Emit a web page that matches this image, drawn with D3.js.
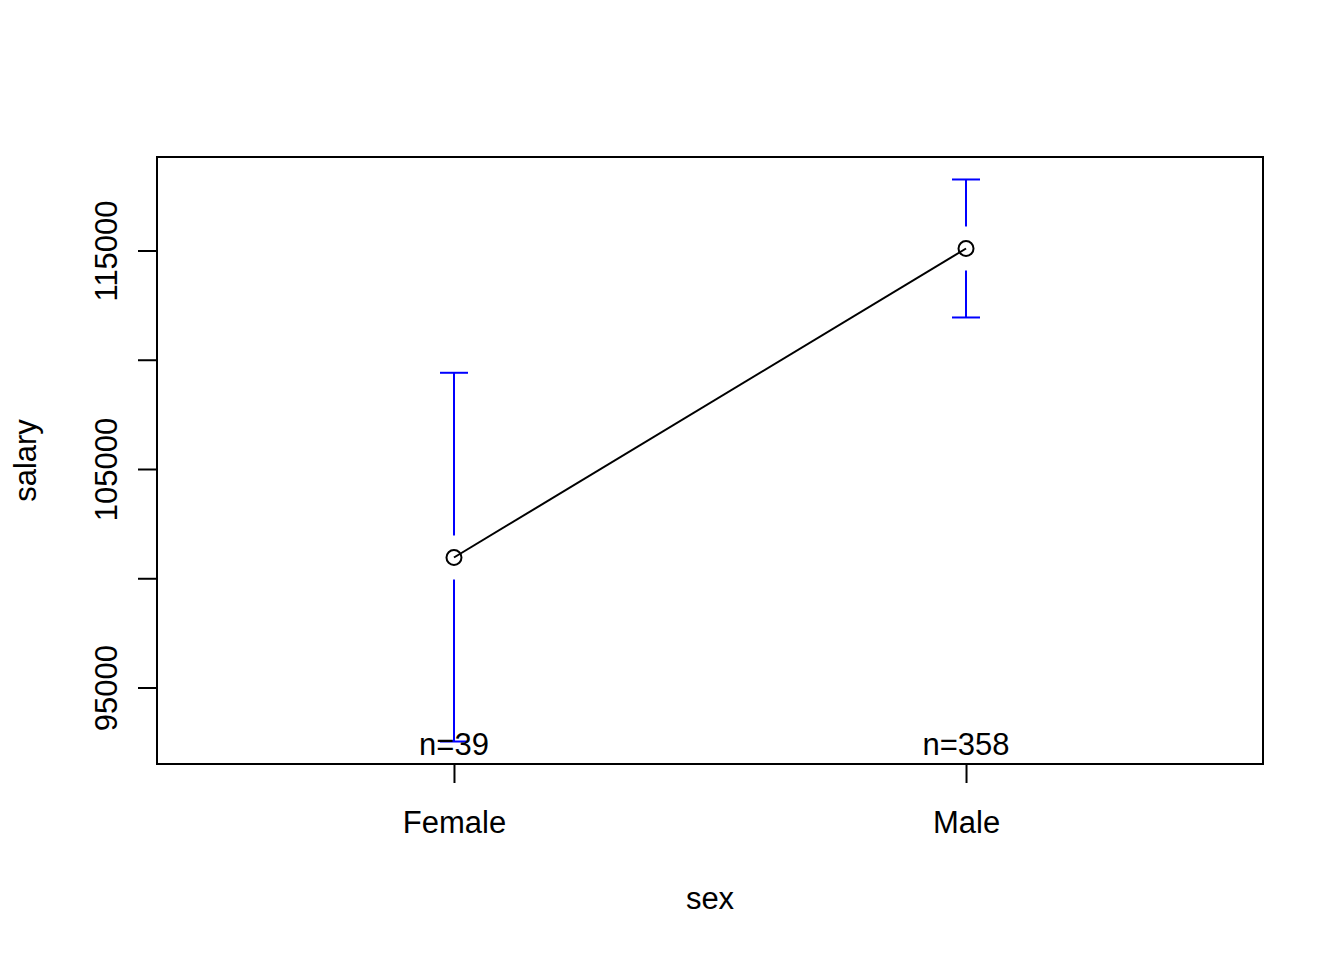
<!DOCTYPE html>
<html>
<head>
<meta charset="utf-8">
<script src="https://cdn.jsdelivr.net/npm/d3@7"></script>
<style>
  html, body { margin: 0; padding: 0; background: #fff; }
  svg text { font-family: "Liberation Sans", Arial, Helvetica, sans-serif; fill: #000; }
</style>
</head>
<body>
<div class="container"></div>
<script>
// group means with 95% confidence limits
const groups = ["Female", "Male"];
const means = [100950, 115091];
const lower = [92529, 111934];
const upper = [109403, 118249];
const counts = [39, 358];
const yTicks = [95000, 100000, 105000, 110000, 115000];
const yTickLabels = ["95000", "", "105000", "", "115000"];

const W = 1344, H = 960;
const margin = { top: 157, right: 81, bottom: 196, left: 157 };
const width = W - margin.left - margin.right,
    height = H - margin.top - margin.bottom;
const fs = 31;

const svg = d3.select("div.container").append("svg")
    .attr("width", W)
    .attr("height", H);

const g = svg.append("g")
    .attr("transform", `translate(${margin.left},${margin.top})`);

// R-style 4% axis extension
const pad = (lo, hi) => { const d = (hi - lo) * 0.04; return [lo - d, hi + d]; };

const x = d3.scaleLinear()
    .domain(pad(0.5, groups.length + 0.5))
    .range([0, width]);
const y = d3.scaleLinear()
    .domain(pad(d3.min(lower), d3.max(upper)))
    .range([height, 0]);

// y axis
const yAxis = g.append("g")
    .call(d3.axisLeft(y).tickValues(yTicks).tickSize(19).tickFormat((d, i) => yTickLabels[i]));
yAxis.select(".domain").remove();
yAxis.selectAll(".tick line").attr("stroke", "#000").attr("stroke-width", 2);
yAxis.selectAll(".tick text")
    .attr("x", null).attr("dy", null)
    .attr("text-anchor", "middle")
    .attr("transform", "translate(-40,0) rotate(-90)")
    .style("font-size", fs + "px");

// x axis
const xAxis = g.append("g")
    .attr("transform", `translate(0,${height})`)
    .call(d3.axisBottom(x).tickValues(groups.map((d, i) => i + 1)).tickSize(19).tickFormat((d, i) => groups[i]));
xAxis.select(".domain").remove();
xAxis.selectAll(".tick line").attr("stroke", "#000").attr("stroke-width", 2);
xAxis.selectAll(".tick text")
    .attr("y", 69).attr("dy", null)
    .style("font-size", fs + "px");

// axis titles
svg.append("text")
    .attr("x", margin.left + width / 2)
    .attr("y", 909)
    .attr("text-anchor", "middle")
    .style("font-size", fs + "px")
    .text("sex");
svg.append("text")
    .attr("transform", `translate(36,${margin.top + height / 2}) rotate(-90)`)
    .attr("text-anchor", "middle")
    .style("font-size", fs + "px")
    .text("salary");

// error bars, with a gap around the mean
const gap = 22, cap = 14;
const bars = g.selectAll("g.bar")
    .data(groups)
    .enter().append("g")
    .attr("class", "bar")
    .attr("stroke", "#0000ff")
    .attr("stroke-width", 2);
bars.append("line")
    .attr("x1", (d, i) => x(i + 1)).attr("x2", (d, i) => x(i + 1))
    .attr("y1", (d, i) => y(upper[i])).attr("y2", (d, i) => y(means[i]) - gap);
bars.append("line")
    .attr("x1", (d, i) => x(i + 1)).attr("x2", (d, i) => x(i + 1))
    .attr("y1", (d, i) => y(means[i]) + gap).attr("y2", (d, i) => y(lower[i]));
bars.append("line")
    .attr("x1", (d, i) => x(i + 1) - cap).attr("x2", (d, i) => x(i + 1) + cap)
    .attr("y1", (d, i) => y(upper[i])).attr("y2", (d, i) => y(upper[i]));
bars.append("line")
    .attr("x1", (d, i) => x(i + 1) - cap).attr("x2", (d, i) => x(i + 1) + cap)
    .attr("y1", (d, i) => y(lower[i])).attr("y2", (d, i) => y(lower[i]));

// connecting line through the means
const line = d3.line().x((d, i) => x(i + 1)).y(d => y(d));
g.append("path")
    .datum(means)
    .attr("d", line)
    .attr("fill", "none")
    .attr("stroke", "#000")
    .attr("stroke-width", 2);

g.selectAll("circle")
    .data(means)
    .enter().append("circle")
    .attr("cx", (d, i) => x(i + 1))
    .attr("cy", d => y(d))
    .attr("r", 7.5)
    .attr("fill", "none")
    .attr("stroke", "#000")
    .attr("stroke-width", 2);

// n labels
g.selectAll("text.n")
    .data(counts)
    .enter().append("text")
    .attr("class", "n")
    .attr("x", (d, i) => x(i + 1))
    .attr("y", height - 9)
    .attr("text-anchor", "middle")
    .style("font-size", fs + "px")
    .text(d => `n=${d}`);

// plot frame
g.append("rect")
    .attr("width", width).attr("height", height)
    .attr("fill", "none")
    .attr("stroke", "#000")
    .attr("stroke-width", 2);
</script>
</body>
</html>
